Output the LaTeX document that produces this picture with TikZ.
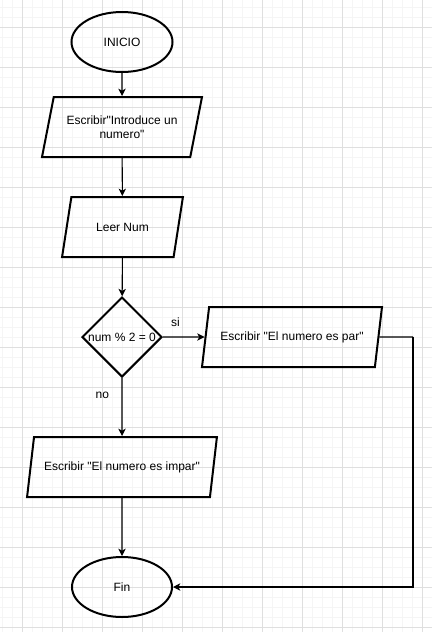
\documentclass[tikz,border=0pt]{standalone}
\usepackage{fontspec}
\setmainfont{Liberation Sans}[Ligatures=TeXOff]
\usetikzlibrary{shapes.geometric,arrows.meta}

\begin{document}
\begin{tikzpicture}[x=0.75pt, y=-0.75pt,
    every node/.style={font=\fontsize{9}{10.5}\selectfont},
    terminal/.style={ellipse, draw, line width=1.5pt, inner sep=0pt},
    datos/.style={trapezium, trapezium left angle=72, trapezium right angle=108,
        trapezium stretches=true, draw, line width=1.5pt, minimum height=45pt, align=center},
    decision/.style={diamond, draw, line width=1.5pt, minimum width=60pt, minimum height=60pt, inner sep=0pt},
    flecha/.style={-{Stealth[length=5.5pt, width=5.5pt, inset=1.5pt]}, line width=0.8pt},
    linea/.style={line width=0.8pt}]
				% Background and grid
				\useasboundingbox[fill=white] (0,0) rectangle (432,632);
				\foreach \x in {2,12,...,432} \draw[gray!8, line width=0.75pt] (\x,0) -- (\x,632);
				\foreach \y in {7,17,...,632} \draw[gray!8, line width=0.75pt] (0,\y) -- (432,\y);
				\foreach \x in {22,62,...,432} \draw[gray!25, line width=0.75pt] (\x,0) -- (\x,632);
				\foreach \y in {27,67,...,632} \draw[gray!25, line width=0.75pt] (0,\y) -- (432,\y);
				
				% Start
				\node[terminal, minimum width=75.75pt, minimum height=45pt] (inicio) at (122,42) {INICIO};
				
				% Input / output
				\node[datos, minimum width=120pt] (escribir) at (122,127) {Escribir"Introduce un\\numero"};
				\node[datos, minimum width=90.75pt] (leer) at (122.5,227) {Leer Num};
				
				% Decision
				\node[decision, label=center:{num \% 2 = 0}] (cond) at (122,337) {};
				
				% Branches
				\node[datos, minimum width=135pt] (par) at (292,337) {Escribir "El numero es par"};
				\node[datos, minimum width=142.5pt] (impar) at (122,467) {Escribir "El numero es impar"};
				
				% End
				\node[terminal, minimum width=75pt, minimum height=45pt] (fin) at (122,587) {Fin};
				\coordinate (giro) at (413,337);
				
				% Arrows
				\draw[flecha] (inicio) -- (escribir);
				\draw[flecha] (escribir) -- (leer);
				\draw[flecha] (leer) -- (cond);
				\draw[flecha] (cond) -- (par) node[pos=0.3, above=4pt] {si};
				\draw[flecha] (cond) -- (impar) node[pos=0.3, left=6pt] {no};
				\draw[flecha] (impar) -- (fin);
				\draw[linea] (par.east) -- (giro);
				\draw[flecha] (giro) |- (fin.east);
			\end{tikzpicture}
\end{document}
